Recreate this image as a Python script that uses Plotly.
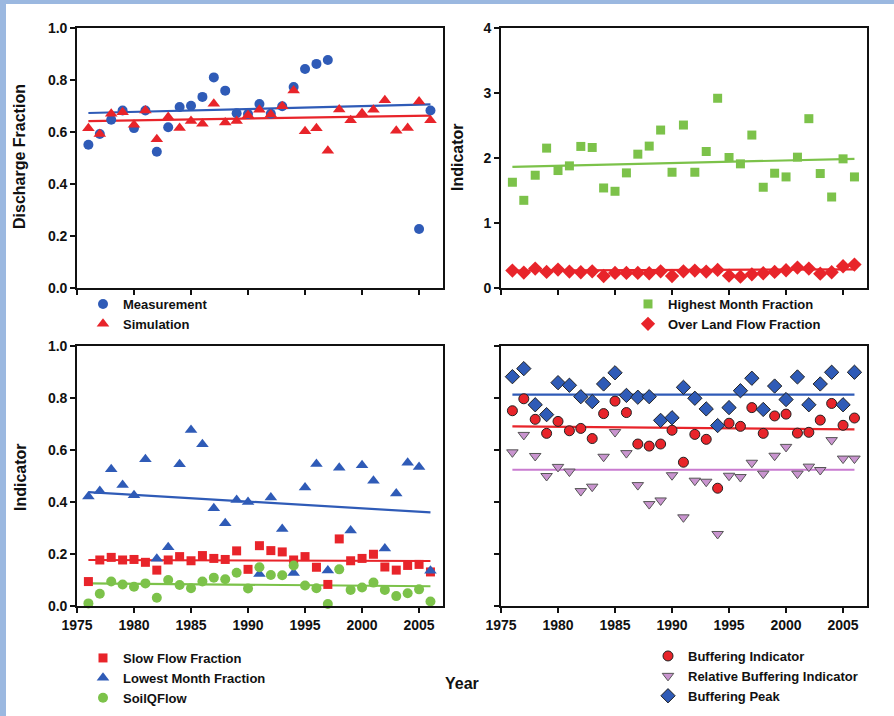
import plotly.graph_objects as go

# ---------------------------------------------------------------- data
years = list(range(1976, 2007))

# Discharge fraction (top left); measurements missing 1998-2004
measurement = [0.551, 0.592, 0.647, 0.683, 0.615, 0.683, 0.524, 0.618, 0.696, 0.701,
               0.735, 0.810, 0.759, 0.672, 0.669, 0.708, 0.670, 0.699, 0.773, 0.842,
               0.862, 0.877, None, None, None, None, None, None, None, 0.227, 0.683]
simulation = [0.614, 0.592, 0.670, 0.676, 0.628, 0.683, 0.572, 0.658, 0.615, 0.642,
              0.632, 0.709, 0.637, 0.642, 0.664, 0.686, 0.667, 0.699, 0.760, 0.603,
              0.614, 0.528, 0.687, 0.645, 0.672, 0.686, 0.722, 0.605, 0.615, 0.717, 0.645]

# Indicators (top right)
highest_month = [1.627, 1.349, 1.735, 2.152, 1.807, 1.879, 2.178, 2.162, 1.539, 1.488,
                 1.771, 2.059, 2.183, 2.430, 1.781, 2.507, 1.781, 2.100, 2.919, 2.008,
                 1.910, 2.353, 1.550, 1.766, 1.709, 2.013, 2.605, 1.761, 1.400, 1.987, 1.709]
over_land = [0.268, 0.237, 0.299, 0.247, 0.283, 0.252, 0.242, 0.257, 0.185, 0.232,
             0.232, 0.232, 0.227, 0.257, 0.185, 0.257, 0.268, 0.252, 0.278, 0.190,
             0.175, 0.211, 0.227, 0.247, 0.273, 0.314, 0.299, 0.221, 0.242, 0.335, 0.360]

# Indicators (bottom left)
slow_flow = [0.094, 0.177, 0.187, 0.177, 0.179, 0.168, 0.138, 0.177, 0.190, 0.174,
             0.194, 0.183, 0.179, 0.212, 0.141, 0.232, 0.213, 0.208, 0.177, 0.190,
             0.149, 0.083, 0.258, 0.174, 0.183, 0.199, 0.150, 0.138, 0.156, 0.160, 0.131]
lowest_month = [0.421, 0.442, 0.526, 0.465, 0.426, 0.564, 0.182, 0.226, 0.545, 0.677,
                0.622, 0.376, 0.318, 0.408, 0.400, 0.123, 0.417, 0.296, 0.127, 0.456,
                0.546, 0.137, 0.532, 0.290, 0.541, 0.482, 0.221, 0.433, 0.551, 0.535, 0.136]
soil_q_flow = [0.010, 0.047, 0.094, 0.083, 0.074, 0.087, 0.032, 0.100, 0.081, 0.068,
               0.094, 0.109, 0.103, 0.128, 0.067, 0.149, 0.119, 0.118, 0.156, 0.079,
               0.068, 0.008, 0.141, 0.062, 0.071, 0.090, 0.062, 0.038, 0.049, 0.064, 0.017]

# Buffering (bottom right)
buffering = [0.751, 0.797, 0.718, 0.664, 0.710, 0.674, 0.683, 0.644, 0.740, 0.788,
             0.744, 0.623, 0.615, 0.623, 0.676, 0.553, 0.660, 0.641, 0.453, 0.703,
             0.691, 0.763, 0.664, 0.731, 0.738, 0.665, 0.668, 0.715, 0.779, 0.695, 0.723]
rel_buffering = [0.591, 0.658, 0.577, 0.500, 0.535, 0.517, 0.442, 0.459, 0.574, 0.669,
                 0.588, 0.465, 0.392, 0.406, 0.503, 0.341, 0.482, 0.478, 0.277, 0.501,
                 0.496, 0.551, 0.509, 0.578, 0.612, 0.509, 0.536, 0.523, 0.638, 0.567, 0.567]
buffering_peak = [0.882, 0.913, 0.774, 0.736, 0.859, 0.849, 0.805, 0.786, 0.854, 0.897,
                  0.810, 0.803, 0.805, 0.714, 0.724, 0.841, 0.799, 0.758, 0.694, 0.763,
                  0.828, 0.876, 0.756, 0.846, 0.794, 0.881, 0.774, 0.854, 0.899, 0.774, 0.899]

# Linear trend end values (first and last year)
trend_years = [1976, 2006]
trend_measurement = [0.673, 0.706]
trend_simulation = [0.642, 0.663]
trend_highest = [1.864, 1.987]
trend_over_land = [0.268, 0.288]
trend_slow = [0.177, 0.173]
trend_lowest = [0.438, 0.360]
trend_soil = [0.087, 0.076]
trend_buffering = [0.691, 0.679]
trend_rel_buffering = [0.524, 0.524]
trend_peak = [0.813, 0.813]

year_ticks = [1975, 1980, 1985, 1990, 1995, 2000, 2005]

# ---------------------------------------------------------------- styling
W, H = 894, 716
BLUE = "#2F5BB7"
RED = "#E8242A"
GREEN = "#7CC24A"
PINK = "#C994CF"
VIOLET = "#C97BD0"
FONT = "Liberation Sans, Arial, sans-serif"


def px_x(p):
    return p / W


def px_y(p):
    return 1 - p / H


fig = go.Figure()


def scatter(x, y, name, color, symbol, size, xa, ya, legend, line_color=None):
    fig.add_trace(go.Scatter(
        x=x, y=y, name=name, mode="markers", cliponaxis=False,
        xaxis=xa, yaxis=ya, legend=legend,
        marker=dict(color=color, symbol=symbol, size=size,
                    line=dict(color=line_color or color, width=1 if line_color else 0)),
    ))


def trend(y, color, xa, ya):
    fig.add_trace(go.Scatter(
        x=trend_years, y=y, mode="lines", showlegend=False, hoverinfo="skip",
        xaxis=xa, yaxis=ya, line=dict(color=color, width=2.2),
    ))


# top left
trend(trend_measurement, BLUE, "x", "y")
trend(trend_simulation, RED, "x", "y")
scatter(years, measurement, "Measurement", BLUE, "circle", 10, "x", "y", "legend")
scatter(years, simulation, "Simulation", RED, "triangle-up", 11, "x", "y", "legend")

# top right
trend(trend_highest, GREEN, "x2", "y2")
trend(trend_over_land, RED, "x2", "y2")
scatter(years, highest_month, "Highest Month Fraction", GREEN, "square", 9, "x2", "y2", "legend2")
scatter(years, over_land, "Over Land Flow Fraction", RED, "diamond", 11, "x2", "y2", "legend2")

# bottom left
trend(trend_lowest, BLUE, "x3", "y3")
trend(trend_slow, RED, "x3", "y3")
trend(trend_soil, GREEN, "x3", "y3")
scatter(years, slow_flow, "Slow Flow Fraction", RED, "square", 9, "x3", "y3", "legend3")
scatter(years, lowest_month, "Lowest Month Fraction", BLUE, "triangle-up", 11, "x3", "y3", "legend3")
scatter(years, soil_q_flow, "SoilQFlow", GREEN, "circle", 10, "x3", "y3", "legend3")

# bottom right
trend(trend_peak, BLUE, "x4", "y4")
trend(trend_buffering, RED, "x4", "y4")
trend(trend_rel_buffering, VIOLET, "x4", "y4")
scatter(years, buffering, "Buffering Indicator", RED, "circle", 10, "x4", "y4", "legend4", "#222222")
scatter(years, rel_buffering, "Relative Buffering Indicator", PINK, "triangle-down", 10, "x4", "y4", "legend4", "#555555")
scatter(years, buffering_peak, "Buffering Peak", BLUE, "diamond", 11, "x4", "y4", "legend4", "#222222")

tick_font = dict(family=FONT, size=14, color="#111111", weight="bold")
axis_common = dict(showline=True, linecolor="#111111", linewidth=1.6, mirror=True,
                   ticks="outside", ticklen=5, tickwidth=1.5, tickcolor="#111111",
                   showgrid=False, zeroline=False, tickfont=tick_font, automargin=False)

left_dom = [px_x(77), px_x(443)]
right_dom = [px_x(501), px_x(867)]
top_dom = [px_y(288), px_y(28)]
bot_dom = [px_y(606), px_y(346)]
xrange_ = [1975, 2007.1]

legend_font = dict(family=FONT, size=13, color="#111111", weight="bold")
legend_common = dict(font=legend_font, bgcolor="rgba(0,0,0,0)", borderwidth=0,
                     xanchor="left", yanchor="top", tracegroupgap=0)

fig.update_layout(
    width=W, height=H, margin=dict(l=0, r=0, t=0, b=0, pad=0, autoexpand=False),
    paper_bgcolor="white", plot_bgcolor="white",
    xaxis=dict(domain=left_dom, anchor="y", range=xrange_, tickvals=year_ticks,
               showticklabels=False, **axis_common),
    yaxis=dict(domain=top_dom, anchor="x", range=[0, 1], tickvals=[0, 0.2, 0.4, 0.6, 0.8, 1.0],
               tickformat=".1f", **axis_common),
    xaxis2=dict(domain=right_dom, anchor="y2", range=xrange_, tickvals=year_ticks,
                showticklabels=False, **axis_common),
    yaxis2=dict(domain=top_dom, anchor="x2", range=[0, 4], tickvals=[0, 1, 2, 3, 4], **axis_common),
    xaxis3=dict(domain=left_dom, anchor="y3", range=xrange_, tickvals=year_ticks, **axis_common),
    yaxis3=dict(domain=bot_dom, anchor="x3", range=[0, 1], tickvals=[0, 0.2, 0.4, 0.6, 0.8, 1.0],
                tickformat=".1f", **axis_common),
    xaxis4=dict(domain=right_dom, anchor="y4", range=xrange_, tickvals=year_ticks, **axis_common),
    yaxis4=dict(domain=bot_dom, anchor="x4", range=[0, 1], tickvals=[0, 0.2, 0.4, 0.6, 0.8, 1.0],
                showticklabels=False, **axis_common),
    legend=dict(x=px_x(83), y=px_y(289), **legend_common),
    legend2=dict(x=px_x(628), y=px_y(289), **legend_common),
    legend3=dict(x=px_x(83), y=px_y(643), **legend_common),
    legend4=dict(x=px_x(648), y=px_y(641), **legend_common),
    showlegend=True,
)

title_font = dict(family=FONT, size=16, color="#111111", weight="bold")
for text, x, y in [("Discharge Fraction", 20, 157), ("Indicator", 458, 157), ("Indicator", 20, 477)]:
    fig.add_annotation(text=text, x=px_x(x), y=px_y(y), xref="paper", yref="paper",
                       showarrow=False, textangle=-90, font=title_font,
                       xanchor="center", yanchor="middle")
fig.add_annotation(text="Year", x=px_x(462), y=px_y(683), xref="paper", yref="paper",
                   showarrow=False, font=dict(family=FONT, size=16, color="#111111", weight="bold"),
                   xanchor="center", yanchor="middle")

# light blue frame along the top and left edges of the page
FRAME = "#9BB8E0"
fig.add_shape(type="rect", xref="paper", yref="paper", x0=0, x1=px_x(6), y0=0, y1=1,
              fillcolor=FRAME, line_width=0, layer="below")
fig.add_shape(type="rect", xref="paper", yref="paper", x0=0, x1=1, y0=px_y(4), y1=1,
              fillcolor=FRAME, line_width=0, layer="below")

fig.write_html("out.html")
